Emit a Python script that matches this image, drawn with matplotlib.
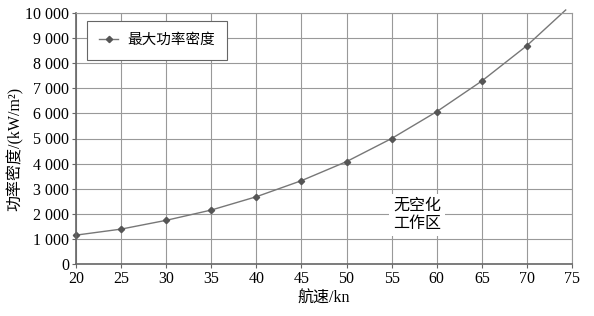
import matplotlib.pyplot as plt
import matplotlib.ticker as mticker

plt.rcParams['font.family'] = ['Liberation Serif', 'Noto Sans CJK SC']

speed = [20, 25, 30, 35, 40, 45, 50, 55, 60, 65, 70, 74.3]
power = [1150, 1390, 1740, 2150, 2680, 3320, 4080, 5000, 6070, 7290, 8700, 10120]

fig = plt.figure(figsize=(5.94, 3.16), dpi=100)
ax = fig.add_axes([76/594, 1-264/316, 496/594, 251/316])

ax.plot(speed, power, color='#777777', lw=1.0, marker='D', markersize=3.2,
        markerfacecolor='#555555', markeredgecolor='#555555',
        markevery=list(range(11)), clip_on=False, label='最大功率密度')

ax.set_xlim(20, 75)
ax.set_ylim(0, 10000)
ax.set_xticks(range(20, 76, 5))
ax.set_yticks(range(0, 10001, 1000))
ax.yaxis.set_major_formatter(mticker.FuncFormatter(lambda v, p: f'{int(v):,}'.replace(',', ' ')))
ax.grid(True, color='#999999', lw=0.8)
ax.set_axisbelow(True)
for s in ['top', 'right']:
    ax.spines[s].set_color('#999999')
for s in ['left', 'bottom']:
    ax.spines[s].set_color('#666666')
    ax.spines[s].set_linewidth(1.2)
ax.tick_params(labelsize=11.5, length=3, color='#666666', pad=2)

ax.set_xlabel('航速/kn', fontsize=11.5, labelpad=3)
ax.set_ylabel('功率密度/(kW/m²)', fontsize=11.5)
ax.yaxis.set_label_coords(-0.105, 0.46)

ax.text(57.8, 1950, '无空化\n工作区', fontsize=11.5, ha='center', va='center',
        linespacing=1.2, bbox=dict(facecolor='white', edgecolor='none', pad=3))

leg = ax.legend(loc='upper left', bbox_to_anchor=(0.022, 0.968), fontsize=10.5,
                fancybox=False, framealpha=1, edgecolor='#666666',
                borderpad=0.85, handlelength=1.3, handletextpad=0.6, borderaxespad=0)
leg.get_frame().set_linewidth(0.8)

fig.savefig('out.png', dpi=100)
